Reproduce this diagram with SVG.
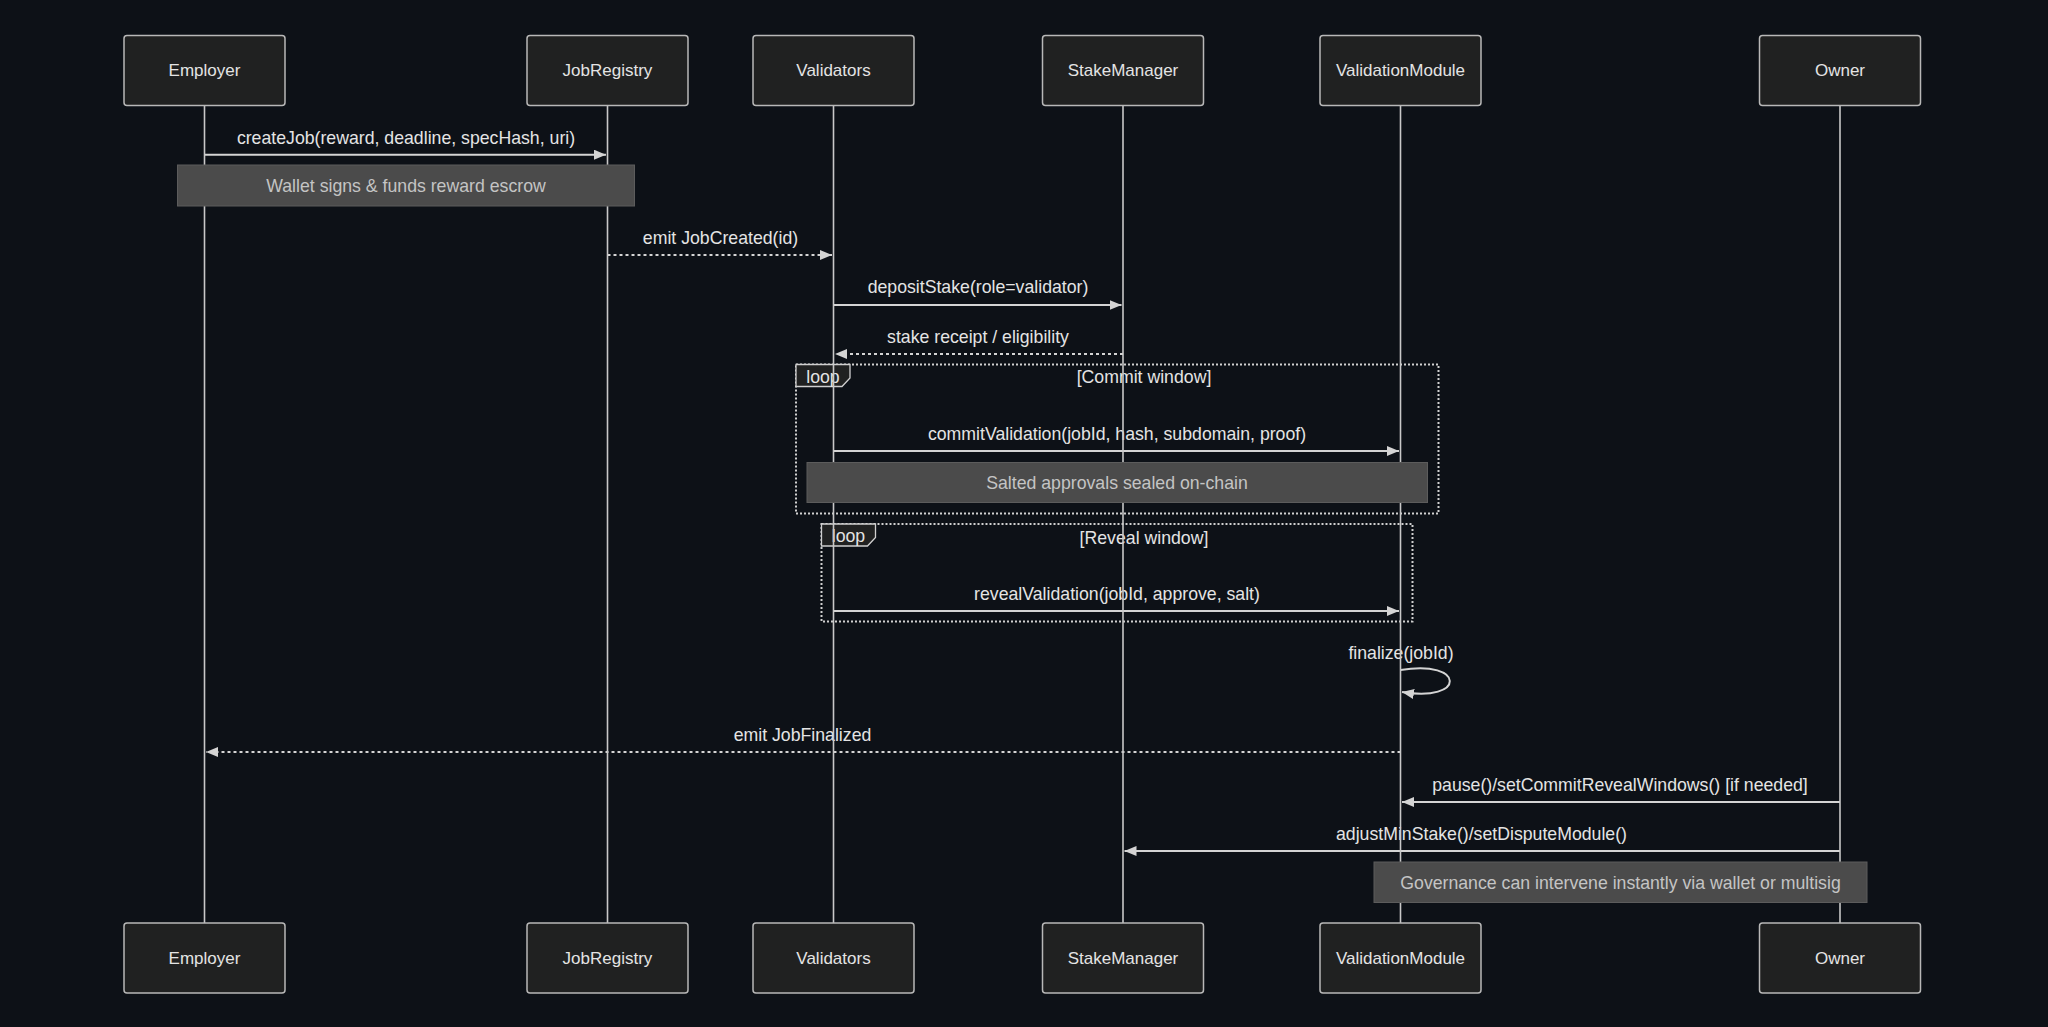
<svg xmlns="http://www.w3.org/2000/svg" width="2048" height="1027" viewBox="0 0 2048 1027">
<defs>
<style>
text{font-family:"Liberation Sans",Arial,sans-serif;font-size:17.7px;text-anchor:middle;dominant-baseline:central}
.actor rect{fill:#202121;stroke:#b8b8b8;stroke-width:1.5}
.actor text{fill:#e4e4e4;font-size:17px}
.life{stroke:#c8c8c8;stroke-width:1.6}
.msg{stroke:#d4d4d4;stroke-width:2;fill:none;marker-end:url(#arr)}
.dash{stroke-dasharray:3 3}
.mtxt{fill:#e4e4e4}
.note rect{fill:#4b4b4b;stroke:#5c5c5c;stroke-width:1}
.note text{fill:#c4c4c4}
.loop{fill:none;stroke:#d0d0d0;stroke-width:2;stroke-dasharray:2 2}
.lbl{fill:#202121;stroke:#d0d0d0;stroke-width:1.3}
.ltxt{fill:#e4e4e4}
</style>
<marker id="arr" markerUnits="userSpaceOnUse" markerWidth="12" markerHeight="10" refX="12" refY="5" orient="auto">
<path d="M0,0 L12,5 L0,10 z" fill="#d4d4d4"/>
</marker>
</defs>
<rect width="2048" height="1027" fill="#0d1117"/>

<g id="loops">
<rect class="loop" x="796" y="364.5" width="642.5" height="149"/>
<polygon class="lbl" points="796,364.5 850,364.5 850,378 842,386.5 796,386.5"/>
<text class="ltxt" x="823" y="376.5">loop</text>
<text class="ltxt" x="1144" y="377">[Commit window]</text>
<rect class="loop" x="821.5" y="524" width="591" height="97.5"/>
<polygon class="lbl" points="821.5,524 875.5,524 875.5,537.5 867.5,546 821.5,546"/>
<text class="ltxt" x="848.5" y="536">loop</text>
<text class="ltxt" x="1144" y="537.5">[Reveal window]</text>
</g>

<g id="connectors">
<line class="msg" x1="204.5" y1="154.7" x2="606" y2="154.7"/>
<text class="mtxt" x="406" y="138">createJob(reward, deadline, specHash, uri)</text>
<line class="msg dash" x1="607.5" y1="255" x2="832" y2="255"/>
<text class="mtxt" x="720.5" y="238">emit JobCreated(id)</text>
<line class="msg" x1="833.5" y1="305" x2="1121.5" y2="305"/>
<text class="mtxt" x="978" y="287">depositStake(role=validator)</text>
<line class="msg dash" x1="1123" y1="354" x2="835" y2="354"/>
<text class="mtxt" x="978" y="337">stake receipt / eligibility</text>
<line class="msg" x1="833.5" y1="451" x2="1399" y2="451"/>
<text class="mtxt" x="1117" y="434">commitValidation(jobId, hash, subdomain, proof)</text>
<line class="msg" x1="833.5" y1="611" x2="1399" y2="611"/>
<text class="mtxt" x="1117" y="594">revealValidation(jobId, approve, salt)</text>
<path class="msg" d="M1400.5,670 C1466,659 1466,703 1402,692"/>
<text class="mtxt" x="1401" y="653">finalize(jobId)</text>
<line class="msg dash" x1="1400.5" y1="752" x2="206" y2="752"/>
<text class="mtxt" x="802.5" y="735">emit JobFinalized</text>
<line class="msg" x1="1840" y1="802" x2="1402" y2="802"/>
<text class="mtxt" x="1620" y="785">pause()/setCommitRevealWindows() [if needed]</text>
<line class="msg" x1="1840" y1="851" x2="1124.5" y2="851"/>
<text class="mtxt" x="1481.5" y="834">adjustMinStake()/setDisputeModule()</text>
</g>

<g id="Employer" class="actor">
<line class="life" x1="204.5" y1="105.5" x2="204.5" y2="923"/>
<rect x="124" y="35.5" width="161" height="70" rx="3"/>
<text x="204.5" y="70.5">Employer</text>
<rect x="124" y="923" width="161" height="70" rx="3"/>
<text x="204.5" y="958">Employer</text>
</g>
<g id="JobRegistry" class="actor">
<line class="life" x1="607.5" y1="105.5" x2="607.5" y2="923"/>
<rect x="527" y="35.5" width="161" height="70" rx="3"/>
<text x="607.5" y="70.5">JobRegistry</text>
<rect x="527" y="923" width="161" height="70" rx="3"/>
<text x="607.5" y="958">JobRegistry</text>
</g>
<g id="Validators" class="actor">
<line class="life" x1="833.5" y1="105.5" x2="833.5" y2="923"/>
<rect x="753" y="35.5" width="161" height="70" rx="3"/>
<text x="833.5" y="70.5">Validators</text>
<rect x="753" y="923" width="161" height="70" rx="3"/>
<text x="833.5" y="958">Validators</text>
</g>
<g id="StakeManager" class="actor">
<line class="life" x1="1123" y1="105.5" x2="1123" y2="923"/>
<rect x="1042.5" y="35.5" width="161" height="70" rx="3"/>
<text x="1123" y="70.5">StakeManager</text>
<rect x="1042.5" y="923" width="161" height="70" rx="3"/>
<text x="1123" y="958">StakeManager</text>
</g>
<g id="ValidationModule" class="actor">
<line class="life" x1="1400.5" y1="105.5" x2="1400.5" y2="923"/>
<rect x="1320" y="35.5" width="161" height="70" rx="3"/>
<text x="1400.5" y="70.5">ValidationModule</text>
<rect x="1320" y="923" width="161" height="70" rx="3"/>
<text x="1400.5" y="958">ValidationModule</text>
</g>
<g id="Owner" class="actor">
<line class="life" x1="1840" y1="105.5" x2="1840" y2="923"/>
<rect x="1759.5" y="35.5" width="161" height="70" rx="3"/>
<text x="1840" y="70.5">Owner</text>
<rect x="1759.5" y="923" width="161" height="70" rx="3"/>
<text x="1840" y="958">Owner</text>
</g>

<g id="note-wallet" class="note">
<rect x="177.5" y="165" width="457" height="41"/>
<text x="406" y="186">Wallet signs &amp; funds reward escrow</text>
</g>
<g id="note-salted" class="note">
<rect x="807" y="462.5" width="620.5" height="40"/>
<text x="1117" y="483">Salted approvals sealed on-chain</text>
</g>
<g id="note-governance" class="note">
<rect x="1374" y="862" width="493" height="40.5"/>
<text x="1620.5" y="882.5">Governance can intervene instantly via wallet or multisig</text>
</g>
</svg>
